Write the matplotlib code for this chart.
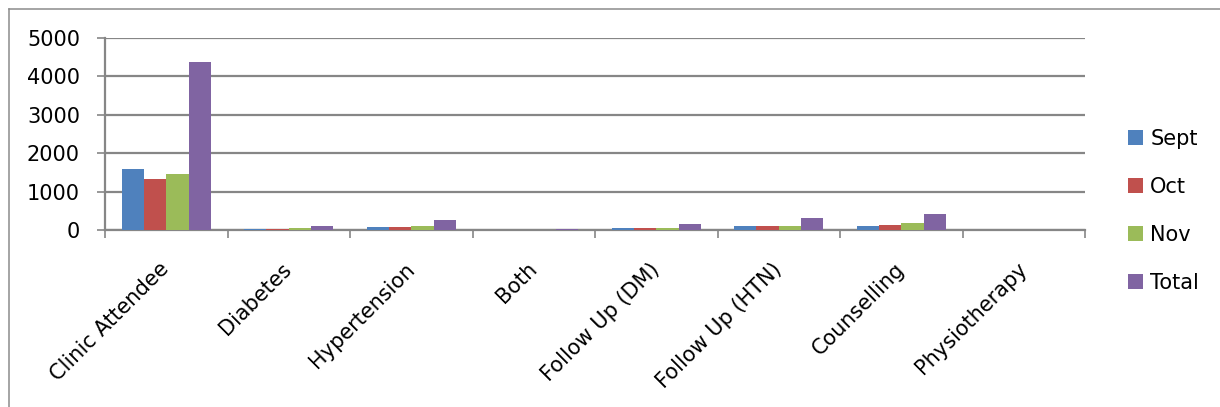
import matplotlib
matplotlib.use("Agg")
import matplotlib.pyplot as plt
from matplotlib.lines import Line2D
import numpy as np

categories = ["Clinic Attendee", "Diabetes", "Hypertension", "Both",
              "Follow Up (DM)", "Follow Up (HTN)", "Counselling", "Physiotherapy"]
sept = [1600, 25, 70, 5, 50, 100, 95, 3]
oct_ = [1320, 15, 80, 3, 55, 100, 120, 2]
nov = [1460, 65, 95, 5, 55, 100, 190, 2]
total = [4380, 110, 250, 20, 160, 310, 410, 8]
series_names = ["Sept", "Oct", "Nov", "Total"]
series = [sept, oct_, nov, total]
colors = ["#4F81BD", "#C0504D", "#9BBB59", "#8064A2"]
yticks = [0, 1000, 2000, 3000, 4000, 5000]

plt.rcParams['font.family'] = ['DejaVu Sans']
FS = 15
W, H = 1220, 407
fig = plt.figure(figsize=(W / 100, H / 100), dpi=100)

def fx(px):
    return px / W

def fy(py):
    return 1 - py / H

ax = fig.add_axes([fx(105), fy(230), fx(1085) - fx(105), fy(38) - fy(230)])
grid_c = "#868686"
n = len(categories)
bw = 1 / 5.5
x0 = np.arange(n)
for k, (name, vals, c) in enumerate(zip(series_names, series, colors)):
    ax.bar(x0 + (0.75 + k) * bw, vals, width=bw, align='edge', color=c,
           label=name, zorder=3)

ax.set_xlim(0, n)
ax.set_ylim(0, 5000)
ax.set_yticks(yticks)
ax.set_yticklabels([str(v) for v in yticks], fontsize=FS, color="black")
ax.yaxis.grid(True, color=grid_c, linewidth=1.6, zorder=0)
ax.set_axisbelow(True)

ax.set_xticks(np.arange(n + 1))
ax.set_xticklabels([])
ax.set_xticks(x0 + 0.5, minor=True)
ax.set_xticklabels(categories, minor=True, rotation=45, ha='right', va='center',
                   rotation_mode='anchor', fontsize=FS)
ax.tick_params(axis='x', which='minor', length=0, pad=26)
ax.tick_params(axis='x', which='major', length=6, width=1.2, color=grid_c, direction='out')
ax.tick_params(axis='y', length=6, width=1.2, color=grid_c, pad=12)

for s in ['top', 'right']:
    ax.spines[s].set_visible(False)
for s in ['left', 'bottom']:
    ax.spines[s].set_color(grid_c)
    ax.spines[s].set_linewidth(1.6)

handles, labels = ax.get_legend_handles_labels()
fig.legend(handles, labels, loc='center left',
           bbox_to_anchor=(fx(1128), fy(211)), frameon=False,
           fontsize=FS, handlelength=0.72, handleheight=0.72,
           handletextpad=0.35, labelspacing=1.35, borderpad=0, borderaxespad=0)

fig.add_artist(Line2D([fx(9), fx(9)], [fy(9), 0], transform=fig.transFigure,
                      color="#8c8c8c", linewidth=1.1))
fig.add_artist(Line2D([fx(9), 1], [fy(9), fy(9)], transform=fig.transFigure,
                      color="#8c8c8c", linewidth=1.1))

fig.savefig("out.png", dpi=100)
